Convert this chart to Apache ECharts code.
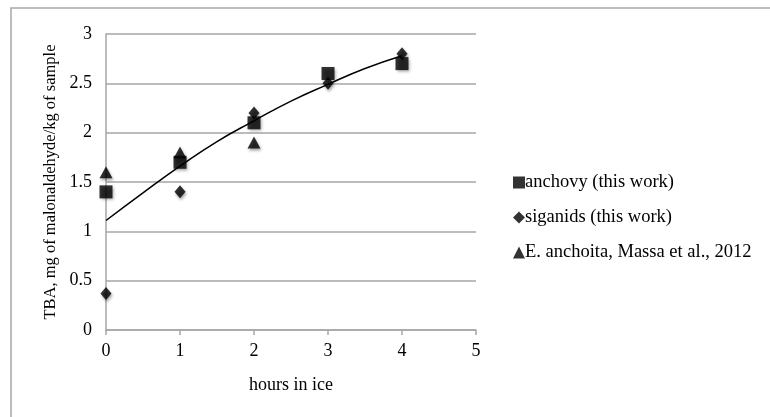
<!DOCTYPE html>
<html>
<head>
<meta charset="utf-8">
<script src="https://cdn.jsdelivr.net/npm/echarts@6/dist/echarts.min.js"></script>
<style>html,body{margin:0;padding:0;background:#fff}#c{width:770px;height:417px}</style>
</head>
<body>
<div id="c"></div>
<script>
const hours = [0, 1, 2, 3, 4];
const anchovy = [1.4, 1.7, 2.1, 2.6, 2.7];
const siganids = [0.37, 1.4, 2.2, 2.5, 2.8];
const anchoitaHours = [0, 1, 2];
const anchoita = [1.6, 1.8, 1.9];
const trendX = [0, 0.5, 1, 1.5, 2, 2.5, 3, 3.5, 4];
const trendY = [1.11, 1.39, 1.66, 1.91, 2.12, 2.32, 2.49, 2.65, 2.78];
const seriesNames = ['anchovy (this work)', 'siganids (this work)', 'E. anchoita, Massa et al., 2012'];

const font = 'Liberation Serif, Times New Roman, serif';
const shadow = {color: '#000', shadowColor: 'rgba(0,0,0,0.45)', shadowBlur: 3, shadowOffsetX: 1, shadowOffsetY: 2};
const pair = (xs, ys) => xs.map((x, i) => [x, ys[i]]);

const chart = echarts.init(document.getElementById('c'));
chart.setOption({
  backgroundColor: '#fff',
  animation: false,
  graphic: [{
    type: 'rect', shape: {x: 11, y: 8, width: 800, height: 450},
    style: {fill: 'none', stroke: '#a6a6a6', lineWidth: 1.5}, z: -1
  }],
  grid: {left: 106, right: 294, top: 34, bottom: 87},
  legend: {
    orient: 'vertical', left: 508, top: 168, itemGap: 16,
    itemWidth: 12, itemHeight: 12, itemStyle: {shadowBlur: 0, shadowOffsetX: 0, shadowOffsetY: 0},
    textStyle: {fontFamily: font, fontSize: 18.5, color: '#000', padding: [0, 0, 0, -5]},
    data: seriesNames
  },
  xAxis: {
    type: 'value', min: 0, max: 5, interval: 1,
    name: 'hours in ice', nameLocation: 'middle', nameGap: 46,
    nameTextStyle: {fontFamily: font, fontSize: 18, color: '#000'},
    axisLine: {lineStyle: {color: '#a6a6a6', width: 1.5}},
    axisTick: {show: true, length: 5, lineStyle: {color: '#a6a6a6', width: 1.5}},
    axisLabel: {fontFamily: font, fontSize: 18, color: '#000', margin: 12},
    splitLine: {show: false}
  },
  yAxis: {
    type: 'value', min: 0, max: 3, interval: 0.5,
    name: 'TBA, mg of malonaldehyde/kg of sample', nameLocation: 'middle', nameGap: 47,
    nameTextStyle: {fontFamily: font, fontSize: 16.5, color: '#000'},
    axisLine: {show: true, lineStyle: {color: '#a6a6a6', width: 1.5}},
    axisTick: {show: false},
    axisLabel: {fontFamily: font, fontSize: 18, color: '#000', margin: 14},
    splitLine: {lineStyle: {color: '#a6a6a6', width: 1.5}}
  },
  series: [
    {
      name: 'trend', type: 'line', data: pair(trendX, trendY), smooth: true,
      showSymbol: false, symbol: 'none', lineStyle: {color: '#000', width: 1.5}, z: 3, silent: true
    },
    {
      name: seriesNames[0], type: 'scatter', symbol: 'rect', symbolSize: 13,
      data: pair(hours, anchovy), itemStyle: shadow, z: 4
    },
    {
      name: seriesNames[1], type: 'scatter', symbol: 'diamond', symbolSize: [11, 13],
      data: pair(hours, siganids), itemStyle: shadow, z: 4
    },
    {
      name: seriesNames[2], type: 'scatter', symbol: 'triangle', symbolSize: [13, 12],
      data: pair(anchoitaHours, anchoita), itemStyle: shadow, z: 4
    }
  ]
});
</script>
</body>
</html>
